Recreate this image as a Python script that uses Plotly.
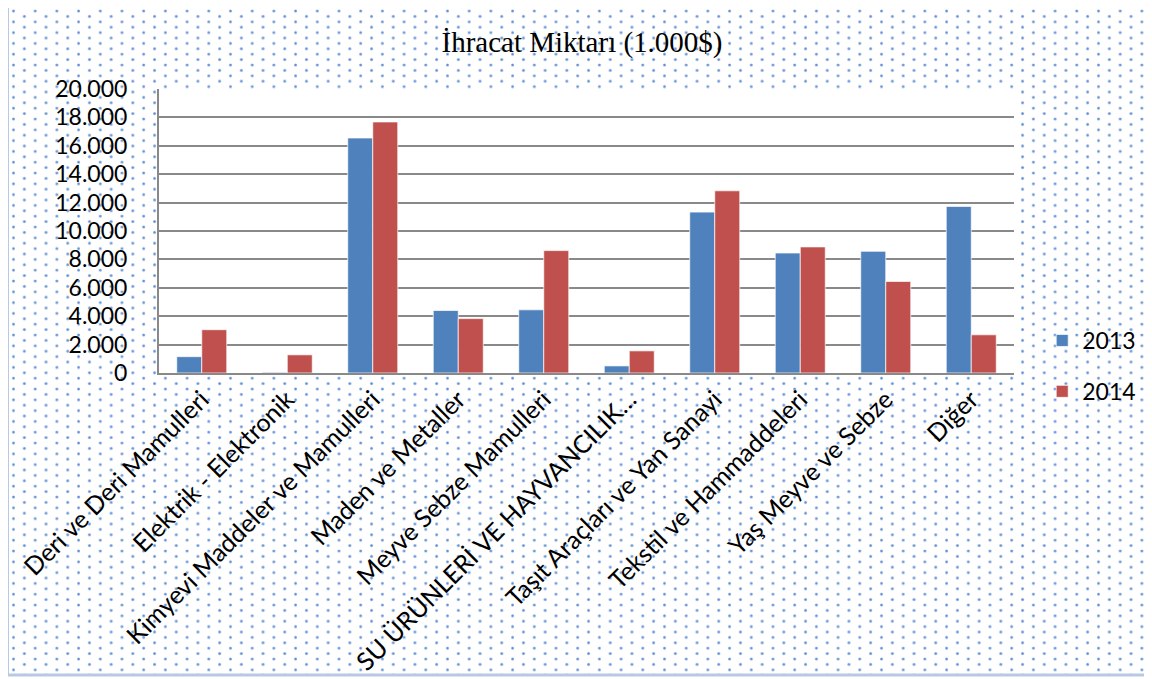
import base64
import plotly.graph_objects as go

categories = [
    "Deri ve Deri Mamulleri",
    "Elektrik - Elektronik",
    "Kimyevi Maddeler ve Mamulleri",
    "Maden ve Metaller",
    "Meyve Sebze Mamulleri",
    "SU ÜRÜNLERİ VE HAYVANCILIK…",
    "Taşıt Araçları ve Yan Sanayi",
    "Tekstil ve Hammaddeleri",
    "Yaş Meyve ve Sebze",
    "Diğer",
]
values_2013 = [1150, 50, 16550, 4400, 4450, 500, 11330, 8450, 8570, 11730]
values_2014 = [3050, 1280, 17680, 3830, 8620, 1560, 12830, 8880, 6450, 2690]
series_names = ["2013", "2014"]
y_ticks = list(range(0, 20001, 2000))

# page body has an 8px margin, so the figure is 8px smaller on each side
W, H = 1144, 671
ML, MR, MT, MB = 151, 138, 81, 306
PW, PH = W - ML - MR, H - MT - MB

svg = f'''<svg xmlns="http://www.w3.org/2000/svg" width="{W}" height="{H}" viewBox="0 0 {W} {H}">
<defs><pattern id="p" x="0" y="0" width="21.7" height="10.8" patternUnits="userSpaceOnUse">
<circle cx="5.5" cy="3" r="1.6" fill="#9dbbe6"/><circle cx="5.5" cy="3" r="1.0" fill="#5a8bd0"/>
<circle cx="16.35" cy="8.4" r="1.6" fill="#9dbbe6"/><circle cx="16.35" cy="8.4" r="1.0" fill="#5a8bd0"/>
</pattern></defs>
<rect x="0" y="0" width="{W}" height="{H}" fill="white"/>
<rect x="0" y="0" width="{W}" height="{H-5}" fill="url(#p)"/>
<line x1="0" y1="0" x2="0" y2="{H-4}" stroke="#b7c9e3" stroke-width="2"/>
<line x1="0" y1="{H-4}" x2="{W}" y2="{H-4}" stroke="#b7c9e3" stroke-width="3"/>
<rect x="{ML}" y="{MT}" width="{PW}" height="{PH}" fill="white"/>
</svg>'''
src = "data:image/svg+xml;base64," + base64.b64encode(svg.encode("utf-8")).decode("ascii")

fig = go.Figure()
fig.add_trace(go.Bar(
    x=categories, y=values_2013, name=series_names[0], legendgroup="a",
    marker=dict(color="#4F81BD", line=dict(color="rgba(255,255,255,0.7)", width=1)),
))
fig.add_trace(go.Bar(
    x=categories, y=values_2014, name=series_names[1], legendgroup="b",
    marker=dict(color="#C0504D", line=dict(color="rgba(255,255,255,0.7)", width=1)),
))

fig.update_layout(
    width=W, height=H,
    margin=dict(l=ML, r=MR, t=MT, b=MB, autoexpand=False),
    paper_bgcolor="white",
    plot_bgcolor="rgba(0,0,0,0)",
    separators=",.",
    barmode="group",
    bargap=0.415,
    bargroupgap=0,
    title=dict(
        text="İhracat Miktarı (1.000$)",
        x=574 / W, xanchor="center",
        y=1 - 34 / H, yanchor="middle",
        font=dict(family="Liberation Serif", size=29, color="black"),
    ),
    legend=dict(
        x=1.033, xanchor="left",
        y=7 / PH, yanchor="middle",
        font=dict(family="Lato", size=23, color="black"),
        bgcolor="rgba(0,0,0,0)",
        tracegroupgap=18,
    ),
    images=[dict(
        source=src, xref="paper", yref="paper",
        x=-ML / PW, y=1 + MT / PH, sizex=W / PW, sizey=H / PH,
        xanchor="left", yanchor="top", sizing="stretch", layer="below",
    )],
    xaxis=dict(
        tickangle=-45,
        tickfont=dict(family="Lato", size=25, color="black"),
        showline=True, linecolor="#898989", linewidth=2,
        automargin=False, ticks="",
    ),
    yaxis=dict(
        range=[0, 20000], tickvals=y_ticks, tickformat=",d",
        tickfont=dict(family="Lato", size=23, color="black"),
        showgrid=True, gridcolor="#898989", gridwidth=2,
        showline=True, linecolor="#898989", linewidth=2,
        zeroline=False, ticklabelstandoff=25, automargin=False,
    ),
)

fig.write_html("out.html")
